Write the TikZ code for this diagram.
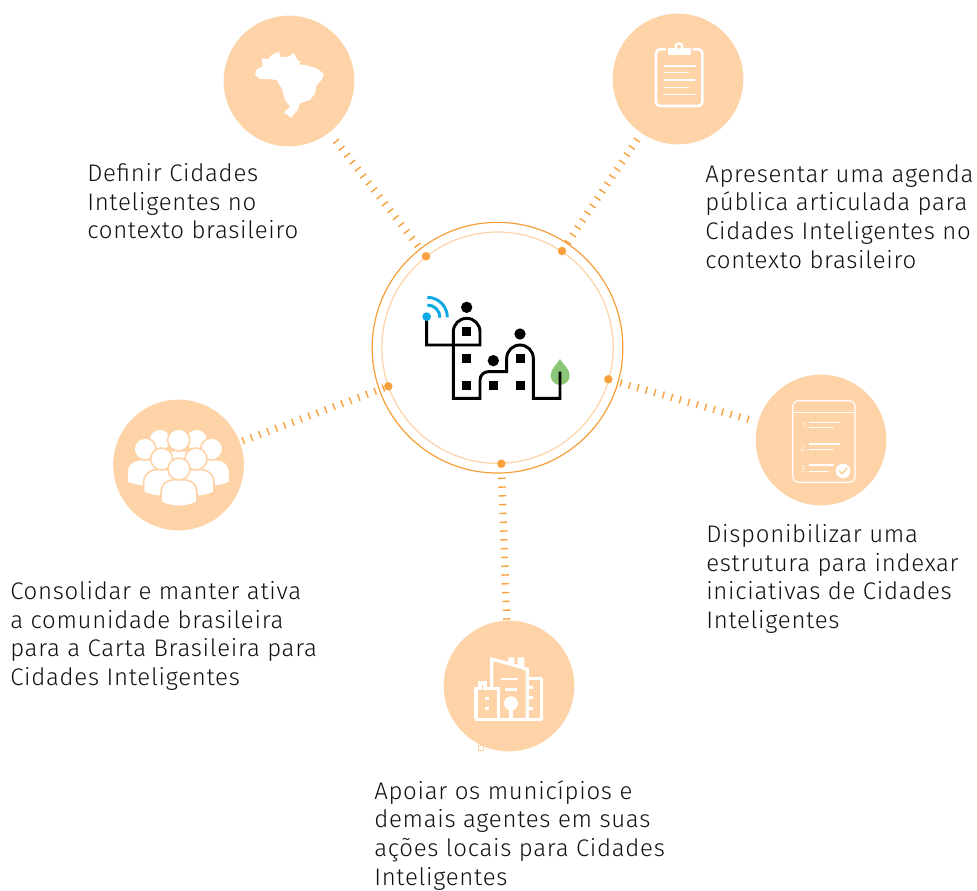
\documentclass[tikz,border=0pt]{standalone}
\usepackage{fontspec}
\setmainfont{Fira Sans Light}[LetterSpace=3]
\definecolor{peach}{HTML}{FDD3A7}
\definecolor{ring}{HTML}{F79E38}
\definecolor{tick}{HTML}{F8A13F}
\definecolor{wifi}{HTML}{0AA9E3}
\definecolor{leaf}{HTML}{8BC677}
\definecolor{ink}{HTML}{101010}
\tikzset{
  bubble/.style={circle,fill=peach,minimum size=98pt,inner sep=0pt},
  pin/.style={circle,fill=tick,minimum size=6.4pt,inner sep=0pt},
  ticks/.style={draw=tick,line width=5.5pt,dash pattern=on 1.05pt off 5.55pt},
  label/.style={anchor=north west,inner sep=0pt,align=left,text=ink,font=\fontsize{18pt}{21.55pt}\selectfont},
  zoomed/.style={x=0.25pt,y=-0.25pt},
  wl/.style={draw=white,line cap=round,line join=round},
  digit/.style={text=white,inner sep=0pt,font=\fontsize{7.5pt}{8pt}\selectfont},
}
\newcommand{\person}[2]{%
  \begin{scope}[shift={(#1,#2)}]
    \fill[white,draw=peach,line width=1.2pt,line join=round]
      (-54,100) -- (-54,72) .. controls (-54,45) and (-35,32) .. (-15,32) -- (15,32)
      .. controls (35,32) and (54,45) .. (54,72) -- (54,100)
      .. controls (20,116) and (-20,116) .. (-54,100) -- cycle;
    \fill[white,draw=peach,line width=1.2pt] (0,0) circle (33);
  \end{scope}}
\begin{document}
\begin{tikzpicture}[x=0.75pt,y=-0.75pt]
\useasboundingbox (0,0) rectangle (977,891);

% satellite discs
\node[bubble] (c1) at (289,81) {};
\node[bubble] (c2) at (678,79) {};
\node[bubble] (c3) at (821,440) {};
\node[bubble] (c4) at (178.5,465) {};
\node[bubble] (c5) at (509,686) {};

% central rings
\node[circle,draw=ring,line width=0.9pt,minimum size=188pt,inner sep=0pt] (outer) at (497.5,347.7) {};
\node[circle,draw=peach,line width=0.9pt,minimum size=173.5pt,inner sep=0pt] (inner) at (497.5,347.7) {};

% pins
\node[pin] (d1) at (426,256.3) {};
\node[pin] (d2) at (562,251) {};
\node[pin] (d3) at (608.3,379.3) {};
\node[pin] (d4) at (388.3,386.3) {};
\node[pin] (d5) at (501.3,463.7) {};

% connectors
\draw[ticks,shorten <=6.5pt,shorten >=6pt] (d1) -- (c1);
\draw[ticks,shorten <=4pt,shorten >=5.5pt] (d2) -- (c2);
\draw[ticks,shorten <=6pt,shorten >=6.5pt] (d3) -- (c3);
\draw[ticks,shorten <=0pt,shorten >=1pt] (d4) -- (c4);
\draw[ticks,shorten <=7pt,shorten >=0.5pt] (d5) -- (c5);

% central city icon
\begin{scope}[shift={(360,210)},zoomed]
  \fill[leaf] (600,447) .. controls (590,465) and (572,475) .. (572,497)
     .. controls (572,514) and (586,525) .. (600,525)
     .. controls (614,525) and (629,514) .. (629,497)
     .. controls (629,475) and (610,465) .. (600,447) -- cycle;
  \draw[black,line width=2.2pt,line join=miter]
     (200,320) -- (200,405) -- (360,405) -- (360,365)
     arc[start angle=0,end angle=-180,radius=40] -- (280,565) -- (360,565) -- (360,510)
     arc[start angle=180,end angle=270,radius=25] -- (440,485) -- (440,445)
     arc[start angle=180,end angle=360,radius=40] -- (520,565) -- (600,565) -- (600,485);
  \foreach \x/\y in {320/292,480/372,400/452} \fill[black] (\x,\y) circle (17);
  \foreach \x/\y in {320/365,320/445,320/526,400/526,481/526,481/445}
     \fill[black] (\x-13,\y-13) rectangle (\x+13,\y+13);
  \draw[wifi,line width=2.2pt] (202,285) arc[start angle=-90,end angle=0,radius=38];
  \draw[wifi,line width=2.2pt] (202,262) arc[start angle=-90,end angle=0,radius=60];
  \fill[wifi] (200,320) circle (13);
\end{scope}

% Brazil
\begin{scope}[shift={(210,0)},zoomed]
  \fill[white] (155,175) -- (175,177) -- (185,165) -- (207,155) -- (212,172) -- (235,170)
    -- (252,160) -- (262,180) -- (272,185) -- (266,193) -- (285,195) -- (320,205) -- (342,222)
    -- (335,240) -- (320,255) -- (315,280) -- (300,300) -- (270,310) -- (262,332) -- (242,353)
    -- (222,337) -- (240,320) -- (225,300) -- (215,265) -- (200,240) -- (175,237) -- (150,237)
    -- (135,225) -- (140,208) -- (158,200) -- cycle;
\end{scope}

% clipboard
\begin{scope}[shift={(600,0)},zoomed]
  \draw[wl,line width=2pt,rounded corners=3pt] (195,148) -- (168,148) -- (168,318) -- (307,318) -- (307,148) -- (280,148);
  \fill[white] (203,143) rectangle (273,164);
  \fill[white] (237,140) circle (14);
  \fill[peach] (237,140) circle (6);
  \foreach \y/\a/\b in {198/192/286,218/192/265,240/192/286,262/192/265,284/190/286}
     \draw[wl,line width=1pt] (\a,\y) -- (\b,\y);
\end{scope}

% checklist
\begin{scope}[shift={(740,365)},zoomed]
  \draw[wl,line width=0.9pt,rounded corners=4pt] (158,107) rectangle (345,352);
  \draw[wl,line width=0.9pt] (158,142) -- (345,142);
  \foreach \y/\a/\b in {172/208/300,188/208/280,237/208/300,254/208/280,300/208/280,319/208/265}
     \draw[wl,line width=0.9pt] (\a,\y) -- (\b,\y);
  \node[digit] (n1) at (195,183) {1.};
  \node[digit] (n2) at (192,250) {2.};
  \node[digit] (n3) at (192,313) {3.};
  \fill[white] (309,318) circle (22);
  \draw[peach,line width=1.3pt,line cap=round,line join=round] (298,318) -- (306,326) -- (321,310);
\end{scope}

% people
\begin{scope}[shift={(100,390)},zoomed]
  \person{180}{150}
  \person{290}{150}
  \person{135}{177}
  \person{335}{177}
  \person{236}{150}
  \person{185}{207}
  \person{288}{207}
  \person{237}{237}
\end{scope}

% buildings
\begin{scope}[shift={(430,610)},zoomed]
  \draw[wl,line width=2.4pt,line cap=butt,line join=miter] (138,328) -- (138,235) -- (150,235) -- (150,219) -- (165,219) -- (165,235) -- (205,235) -- (205,328);
  \draw[wl,line width=2.4pt,line cap=butt,line join=miter] (185,235) -- (185,147) -- (240,162) -- (240,147) -- (248,147) -- (248,165) -- (268,170) -- (268,147) -- (278,147) -- (278,174) -- (292,178) -- (292,328);
  \draw[wl,line width=2.4pt,line cap=butt,line join=round] (292,205) -- (335,205) -- (335,328) -- (136,328);
  \foreach \y in {232,263,295} \draw[wl,line width=1.8pt,line cap=butt] (295,\y) -- (310,\y);
  \draw[wl,line width=1.8pt,line cap=butt] (212,207) -- (263,207);
  \draw[wl,line width=1.8pt,line cap=butt] (226,238) -- (262,238);
  \fill[white] (243,280) circle (21);
  \fill[white] (238,290) rectangle (248,328);
  \fill[white] (166,261) rectangle (177,271);
  \fill[white] (166,291) rectangle (177,301);
\end{scope}

% stray mark under the lower disc
\node[draw=peach,line width=0.8pt,fill=white,minimum size=3.6pt,inner sep=0pt] (mark) at (481,748) {};

% labels
\node[label] (t1) at (87,163) {Definir Cidades\\Inteligentes no\\contexto brasileiro};
\node[label] (t2) at (705,164) {Apresentar uma agenda\\pública articulada para\\Cidades Inteligentes no\\contexto brasileiro};
\node[label] (t3) at (706,524) {Disponibilizar uma\\estrutura para indexar\\iniciativas de Cidades\\Inteligentes};
\node[label] (t4) at (10,581) {Consolidar e manter ativa\\a comunidade brasileira\\para a Carta Brasileira para\\Cidades Inteligentes};
\node[label] (t5) at (374,780) {Apoiar os municípios e\\demais agentes em suas\\ações locais para Cidades\\Inteligentes};
\end{tikzpicture}
\end{document}
